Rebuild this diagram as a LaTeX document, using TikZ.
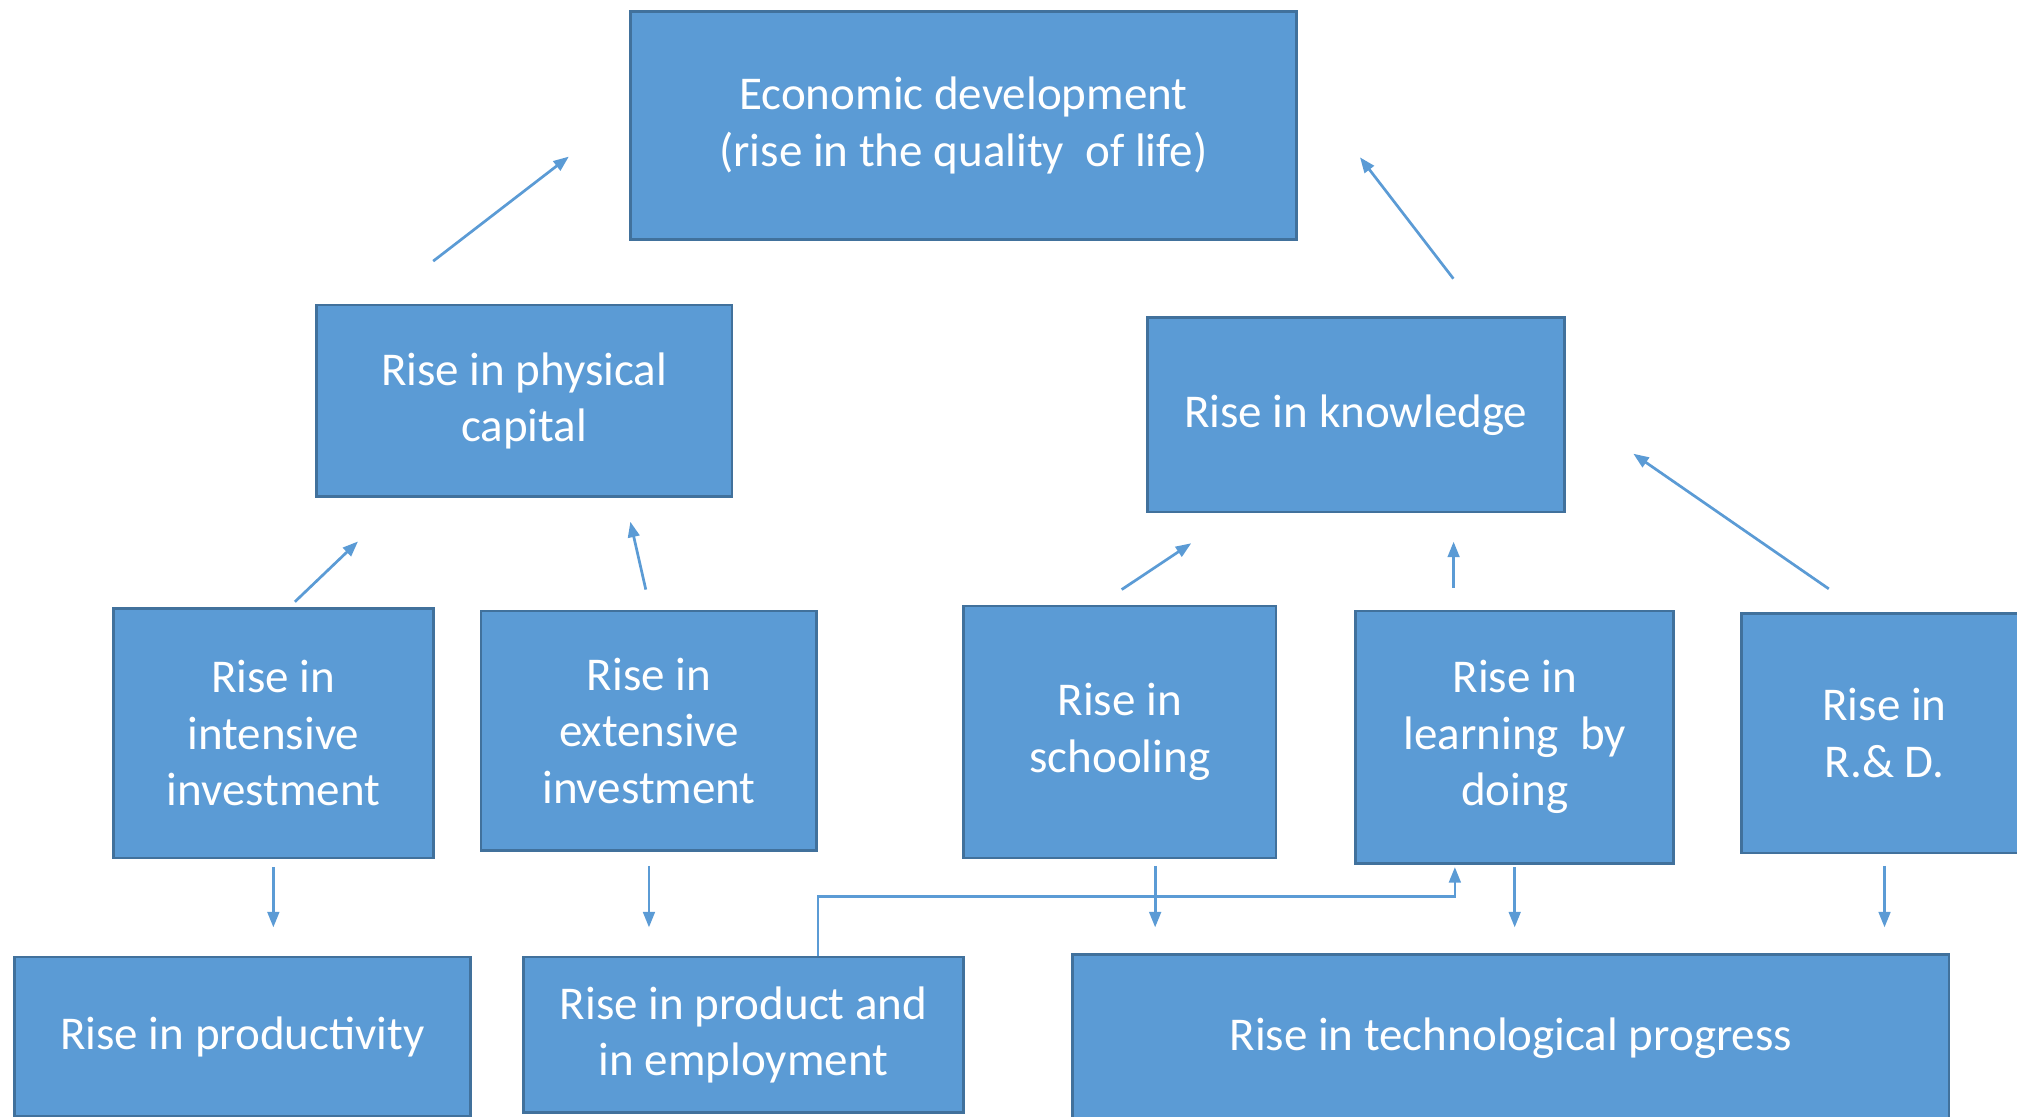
\documentclass[tikz,border=0pt]{standalone}
\usepackage{fontspec}
\setmainfont{Carlito}
\usetikzlibrary{arrows.meta}

\definecolor{boxfill}{HTML}{5B9BD5}
\definecolor{boxline}{HTML}{41719C}

\begin{document}
\begin{tikzpicture}[
  box/.style={draw=boxline, line width=0.6pt, fill=boxfill, text=white, align=center, inner sep=2pt,
    font=\fontsize{10.4pt}{12.5pt}\selectfont},
  arr/.style={-{Triangle[length=1.2mm, width=0.9mm]}, draw=boxfill, line width=0.6pt}
]
\useasboundingbox (0,0) rectangle (15.68,-8.68);
\clip (0,0) rectangle (15.68,-8.68);

% top
\node[box, minimum width=5.18cm, minimum height=1.77cm] (econ) at (7.49,-0.975) {Economic development\\(rise in the quality~ of life)};

% middle
\node[box, minimum width=3.23cm, minimum height=1.49cm] (phys) at (4.075,-3.115) {Rise in physical\\capital};
\node[box, minimum width=3.24cm, minimum height=1.51cm] (know) at (10.54,-3.225) {Rise in knowledge};

% sources
\node[box, minimum width=2.49cm, minimum height=1.94cm] (inten) at (2.125,-5.70) {Rise in\\intensive\\investment};
\node[box, minimum width=2.61cm, minimum height=1.86cm] (exten) at (5.045,-5.68) {Rise in\\extensive\\investment};
\node[box, minimum width=2.43cm, minimum height=1.96cm] (school) at (8.705,-5.69) {Rise in\\schooling};
\node[box, minimum width=2.47cm, minimum height=1.96cm] (learn) at (11.775,-5.73) {Rise in\\learning~ by\\doing};
\node[box, minimum width=2.22cm, minimum height=1.86cm] (rnd) at (14.65,-5.70) {Rise in\\R.\& D.};

% outcomes
\node[box, minimum width=3.55cm, minimum height=1.24cm] (prod) at (1.885,-8.06) {Rise in productivity};
\node[box, minimum width=3.42cm, minimum height=1.21cm] (emp) at (5.78,-8.045) {Rise in product and\\in employment};
\node[box, minimum width=6.81cm, minimum height=1.30cm] (tech) at (11.745,-8.07) {Rise in technological progress};

% upward links
\draw[arr, shorten <=5.4mm, shorten >=5.9mm] ([xshift=-11.35mm]phys.north) -- ([yshift=1.18mm]econ.west);
\draw[arr, shorten <=3.7mm, shorten >=7.9mm] ([xshift=9.84mm]know.north) -- ([yshift=3.78mm]econ.east);
\draw[arr, shorten <=0.6mm, shorten >=4.9mm] ([xshift=1.24mm]inten.north) -- ([xshift=-9.38mm]phys.south);
\draw[arr, shorten <=1.6mm, shorten >=1.9mm] ([xshift=0.11mm]exten.north) -- ([xshift=7.83mm]phys.south);
\draw[arr, shorten <=2.1mm, shorten >=4.2mm] ([xshift=-1.6mm]school.north) -- ([xshift=-9.3mm]know.south);
\draw[arr, shorten <=1.7mm, shorten >=2.2mm] ([xshift=-4.75mm]learn.north) -- ([xshift=7.6mm]know.south);
\draw[arr, shorten <=3.2mm, shorten >=6.4mm] ([xshift=-1.7mm]rnd.north) -- ([yshift=0.62mm]know.east);

% downward links
\draw[arr, shorten <=0.6mm, shorten >=2.2mm] (inten.south) -- (inten.south |- prod.north);
\draw[arr, shorten <=1.1mm, shorten >=2.2mm] (exten.south) -- (exten.south |- emp.north);
\draw[arr, shorten <=0.5mm, shorten >=2mm] ([xshift=2.75mm]school.south) -- ([xshift=2.75mm]school.south |- tech.north);
\draw[arr, shorten <=0.2mm, shorten >=2mm] (learn.south) -- (learn.south |- tech.north);
\draw[arr, shorten <=0.9mm, shorten >=2mm] (rnd.south) -- (rnd.south |- tech.north);

% feedback from employment to learning
\draw[arr, shorten >=0.2mm] ([xshift=5.8mm]emp.north) -- ++(0,4.6mm) -| ([xshift=-4.65mm]learn.south);
\end{tikzpicture}
\end{document}
